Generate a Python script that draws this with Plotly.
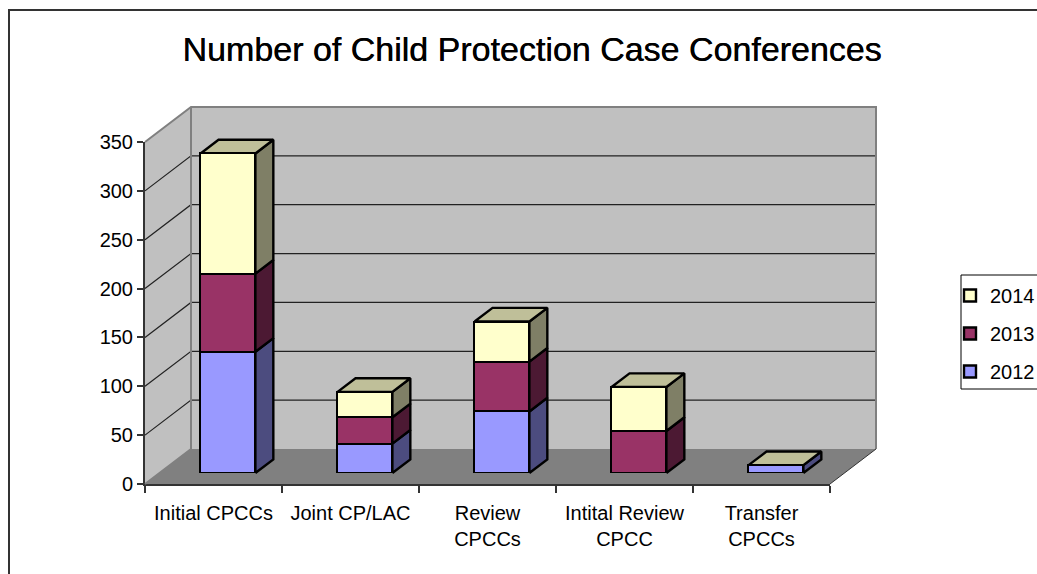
import plotly.graph_objects as go

W, H = 1037, 574
FONT = "Liberation Sans, Arial, sans-serif"

categories = ["Initial CPCCs", "Joint CP/LAC", "Review<br>CPCCs", "Intital Review<br>CPCC", "Transfer<br>CPCCs"]
y_ticks = [0, 50, 100, 150, 200, 250, 300, 350]
series_names = ["2012", "2013", "2014"]
values_2012 = [124, 30, 63, 0, 8]
values_2013 = [80, 27, 51, 43, 0]
values_2014 = [123, 26, 41, 45, 0]
colors_front = ["#9999FF", "#993366", "#FFFFCC"]
colors_side = ["#4C4C7F", "#4C1933", "#7F7F66"]
color_top = "#BFBF99"

series = [values_2012, values_2013, values_2014]
n = len(categories)
YMAX = 350

# plot geometry in pixels: front plane of the 3-D box and depth of the box
PX_L, PX_R, PX_B, PX_T = 145, 830, 484, 142
DEPTH_PX_X, DEPTH_PX_Y = 46, 35
sx = (PX_R - PX_L) / n
sy = (PX_B - PX_T) / YMAX
DX, DY = DEPTH_PX_X / sx, DEPTH_PX_Y / sy
D0, D1 = 0.315, 0.705      # depth range occupied by the bars
BAR_W = 0.40
EDGE = 2.4


def dx(*p):
    return [v / W for v in p]


def dy(*p):
    return [1 - v / H for v in sorted(p, reverse=True)]


def P(x, y, d=0.0):
    return x + d * DX, y + d * DY


fig = go.Figure()


def poly(points, fill, line_color=None, line_width=0):
    xs = [p[0] for p in points] + [points[0][0]]
    ys = [p[1] for p in points] + [points[0][1]]
    fig.add_trace(go.Scatter(x=xs, y=ys, xaxis="x2", yaxis="y2", mode="lines", fill="toself",
                             fillcolor=fill, line=dict(color=line_color or fill, width=line_width),
                             hoverinfo="skip", showlegend=False))


def seg(points, color, width):
    fig.add_trace(go.Scatter(x=[p[0] if p else None for p in points], y=[p[1] if p else None for p in points],
                             xaxis="x2", yaxis="y2", mode="lines", line=dict(color=color, width=width),
                             hoverinfo="skip", showlegend=False))


# invisible carrier for the tick axes
fig.add_trace(go.Scatter(x=[0, n], y=[0, YMAX], xaxis="x", yaxis="y", mode="lines",
                         line=dict(width=0), hoverinfo="skip", showlegend=False))

# walls and floor
poly([P(0, 0), P(0, 0, 1), P(0, YMAX, 1), P(0, YMAX)], "#C0C0C0")
poly([P(0, 0, 1), P(n, 0, 1), P(n, YMAX, 1), P(0, YMAX, 1)], "#C0C0C0")
poly([P(0, 0), P(n, 0), P(n, 0, 1), P(0, 0, 1)], "#808080")

# gridlines on side and back wall
grid = []
for t in y_ticks[1:-1]:
    grid += [P(0, t), P(0, t, 1), P(n, t, 1), None]
seg(grid, "#222222", 1.2)
seg([P(0, YMAX), P(0, YMAX, 1), P(n, YMAX, 1), P(n, 0, 1)], "#808080", 2)
seg([P(0, 0), P(0, 0, 1), P(0, YMAX, 1)], "#808080", 2)
seg([P(n, 0), P(n, 0, 1)], "#333333", 1)

# bar depth faces
for i in range(n):
    cx = i + 0.5
    xr = cx + BAR_W / 2
    xl = cx - BAR_W / 2
    base = 0
    for s in range(3):
        v = series[s][i]
        if v > 0:
            poly([P(xr, base, D0), P(xr, base + v, D0), P(xr, base + v, D1), P(xr, base, D1)],
                 colors_side[s], "#000000", EDGE)
        base += v
    poly([P(xl, base, D0), P(xr, base, D0), P(xr, base, D1), P(xl, base, D1)], color_top, "#000000", EDGE)

# bar front faces
for s in range(3):
    fig.add_trace(go.Bar(x=[i + 0.5 for i in range(n)], y=series[s], name=series_names[s], width=BAR_W,
                         xaxis="x3", yaxis="y3", legendgroup=series_names[s], legendrank=3 - s,
                         marker=dict(color=colors_front[s], line=dict(color="#000000", width=EDGE)),
                         hoverinfo="skip"))

# axis domains
pad = 6
x2_l, x2_r = PX_L - pad, PX_R + DEPTH_PX_X + pad
y2_b, y2_t = PX_B + pad, PX_T - DEPTH_PX_Y - pad
off_x, off_y = D0 * DEPTH_PX_X, D0 * DEPTH_PX_Y

hidden = dict(visible=False, showgrid=False, zeroline=False, fixedrange=True)

fig.update_layout(
    width=W, height=H, autosize=False,
    margin=dict(l=0, r=0, t=0, b=0, pad=0, autoexpand=False),
    paper_bgcolor="white", plot_bgcolor="rgba(0,0,0,0)",
    barmode="stack", bargap=0,
    font=dict(family=FONT, size=20, color="black"),
    title=dict(text="Number of Child Protection Case Conferences", x=532 / W, xanchor="center",
               y=1 - 49 / H, yanchor="middle",
               font=dict(family=FONT, size=34, color="black", shadow="0.4px 0 0 #000")),
    xaxis=dict(domain=dx(PX_L, PX_R), range=[0, n], tickmode="array", tickvals=[i + 0.5 for i in range(n)],
               ticktext=categories, ticks="", showgrid=False, zeroline=False, showline=True,
               linecolor="#333333", linewidth=2, tickangle=0, fixedrange=True,
               tickfont=dict(family=FONT, size=20, color="black"), anchor="y", ticklabelstandoff=10,
               minor=dict(tickmode="array", tickvals=list(range(n + 1)), ticks="outside", ticklen=7, tickwidth=2,
                          tickcolor="#333333", showgrid=False)),
    yaxis=dict(domain=dy(PX_B, PX_T), range=[0, YMAX], tickmode="array", tickvals=y_ticks, ticks="outside",
               ticklen=6, tickwidth=2, tickcolor="#333333", showgrid=False, zeroline=False, showline=True,
               linecolor="#333333", linewidth=2, fixedrange=True,
               tickfont=dict(family=FONT, size=20, color="black"), anchor="x"),
    xaxis2=dict(domain=dx(x2_l, x2_r), range=[(x2_l - PX_L) / sx, (x2_r - PX_L) / sx], anchor="y2", **hidden),
    yaxis2=dict(domain=dy(y2_b, y2_t), range=[(PX_B - y2_b) / sy, (PX_B - y2_t) / sy], anchor="x2", **hidden),
    xaxis3=dict(domain=dx(PX_L + off_x, PX_R + off_x), range=[0, n], anchor="y3", **hidden),
    yaxis3=dict(domain=dy(PX_B - off_y, PX_T - off_y), range=[0, YMAX], anchor="x3", **hidden),
    showlegend=True,
    legend=dict(x=950 / W, xanchor="left", y=1 - 333.5 / H, yanchor="middle", traceorder="grouped",
                tracegroupgap=9, bgcolor="rgba(0,0,0,0)", borderwidth=0,
                font=dict(family=FONT, size=20, color="black")),
    shapes=[
        dict(type="rect", xref="paper", yref="paper", x0=9 / W, x1=1.02, y0=-0.02, y1=1 - 10 / H,
             line=dict(color="#333333", width=2), layer="below"),
        dict(type="rect", xref="paper", yref="paper", x0=961 / W, x1=1.02, y0=1 - 389 / H, y1=1 - 275 / H,
             line=dict(color="#000000", width=1), fillcolor="white", layer="below"),
    ],
)

fig.write_html("out.html", config=dict(displayModeBar=False),
               post_script="document.body.style.margin='0';document.body.style.overflow='hidden';")
